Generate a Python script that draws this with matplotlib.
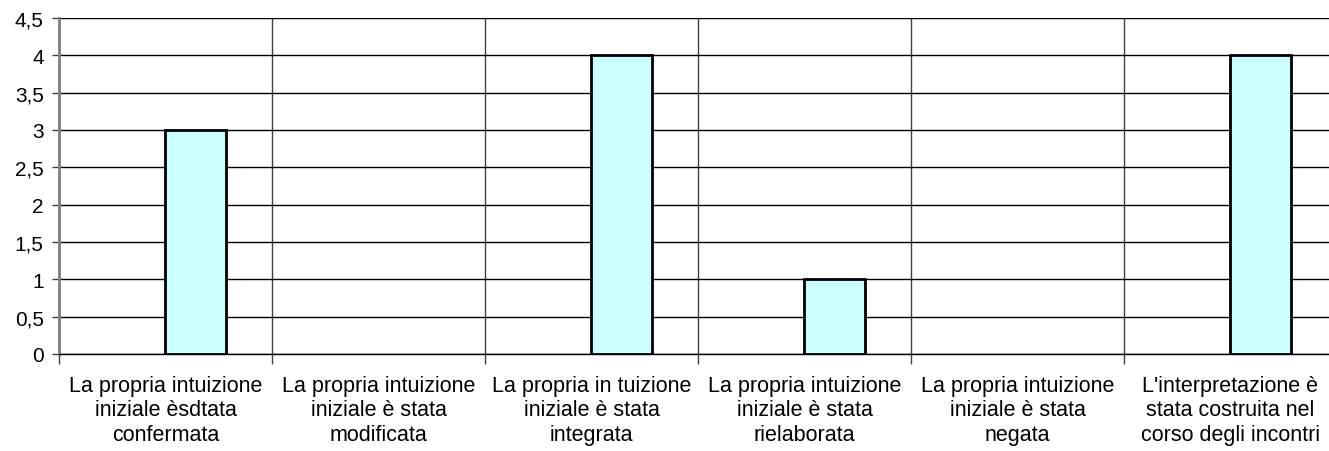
import numpy as np
import matplotlib.pyplot as plt
from matplotlib.ticker import FixedLocator, MultipleLocator, FuncFormatter

plt.rcParams['font.family'] = ['Liberation Sans', 'DejaVu Sans']

categorie = [
    "La propria intuizione\niniziale èsdtata\nconfermata",
    "La propria intuizione\niniziale è stata\nmodificata",
    "La propria in tuizione\niniziale è stata\nintegrata",
    "La propria intuizione\niniziale è stata\nrielaborata",
    "La propria intuizione\niniziale è stata\nnegata",
    "L'interpretazione è\nstata costruita nel\ncorso degli incontri",
]
serie_vuota = [0, 0, 0, 0, 0, 0]
valori = [3, 0, 4, 1, 0, 4]

fig = plt.figure(figsize=(13.29, 4.52), dpi=100)
ax = fig.add_axes([59 / 1329, 97 / 452, 1278 / 1329, 336 / 452])

x = np.arange(len(categorie))
w = 1 / 3.5  # two series, gap width 150%
ax.bar(x - w / 2, serie_vuota, w, color='#CCFFFF', edgecolor='black', linewidth=0)
for xi, v in zip(x + w / 2, valori):
    if v > 0:
        ax.bar(xi, v, w, color='#CCFFFF', edgecolor='black', linewidth=2, zorder=3)

ax.set_xlim(-0.5, len(categorie) - 0.5)
ax.set_ylim(0, 4.5)
ax.yaxis.set_major_locator(MultipleLocator(0.5))
ax.yaxis.set_major_formatter(FuncFormatter(lambda v, p: f"{v:g}".replace('.', ',')))
ax.set_xticks(x)
ax.set_xticklabels(categorie, fontsize=15.5, linespacing=1.22)
ax.xaxis.set_minor_locator(FixedLocator(np.arange(-0.5, len(categorie), 1)))
ax.tick_params(axis='x', which='major', length=0, pad=15)
ax.tick_params(axis='x', which='minor', length=7, width=1, color='#404040', direction='out')
ax.tick_params(axis='y', length=5, width=1, labelsize=15, color='#404040', pad=6)

ax.grid(axis='y', which='major', color='black', linewidth=1)
ax.grid(axis='x', which='minor', color='#404040', linewidth=1)
ax.set_axisbelow(True)

for s in ('top', 'right'):
    ax.spines[s].set_visible(False)
ax.spines['left'].set_color('#808080')
ax.spines['left'].set_linewidth(2)
ax.spines['bottom'].set_color('black')
ax.spines['bottom'].set_linewidth(1)

fig.savefig('out.png', dpi=100)
